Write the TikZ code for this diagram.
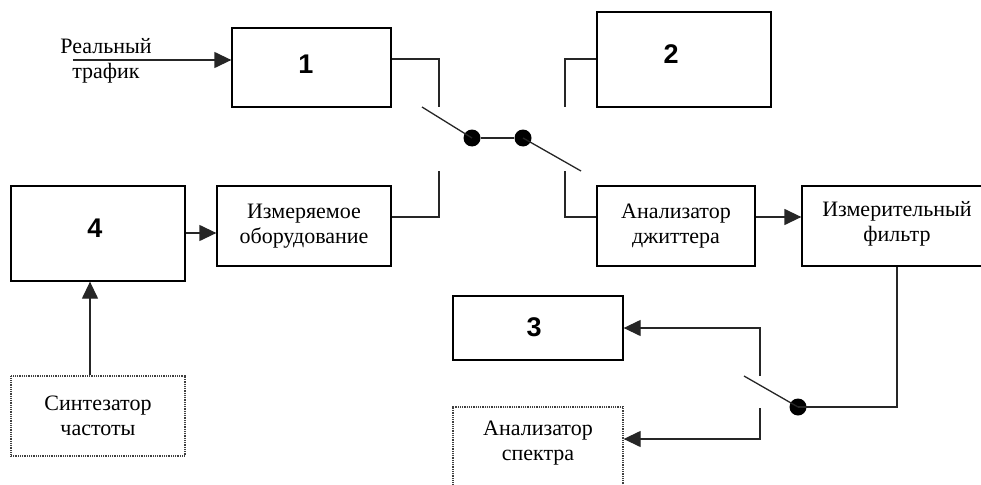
\documentclass[tikz,border=0pt]{standalone}
\usepackage{fontspec}
\setmainfont{Liberation Serif}
\newfontfamily\digitfont{Liberation Sans}
\usetikzlibrary{arrows.meta}
\begin{document}
\begin{tikzpicture}[x=1pt,y=-1pt,
  box/.style={draw=black, line width=1.3pt, inner sep=0pt},
  dotbox/.style={draw=black!75, line width=1.3pt, dash pattern=on 1pt off 0.8pt, inner sep=0pt},
  txt/.style={font=\fontsize{22}{25}\selectfont, align=center, inner sep=0pt},
  digit/.style={font=\digitfont\bfseries\fontsize{27}{27}\selectfont, inner sep=0pt},
  wire/.style={line width=1.3pt, draw=black!85},
  arr/.style={wire, -{Triangle[length=17pt,width=16pt]}},
  junction/.style={circle, fill=black, inner sep=0pt, minimum size=17pt}
]
\useasboundingbox (0,0) rectangle (981,484);
\clip (0,0) rectangle (981,484);

% boxes
\node[box, minimum width=159pt, minimum height=79pt] (b1) at (311.5,67.5) {};
\node[box, minimum width=174pt, minimum height=95pt] (b2) at (684,59.5) {};
\node[box, minimum width=174pt, minimum height=80pt, txt] (izm) at (304,226) {Измеряемое\\оборудование};
\node[box, minimum width=174pt, minimum height=95pt] (b4) at (98,233.5) {};
\node[box, minimum width=158pt, minimum height=80pt, txt] (ad) at (676,226) {Анализатор\\джиттера};
\node[box, minimum width=190pt, minimum height=80pt] (if) at (897,226) {};
\node[txt] (iftxt) at (897,224) {Измерительный\\фильтр};
\node[box, minimum width=170pt, minimum height=64pt] (b3) at (538,328) {};
\node[dotbox, minimum width=170pt, minimum height=100pt] (as) at (538,457) {};
\node[txt] (astxt) at (538,443) {Анализатор\\спектра};
\node[dotbox, minimum width=174pt, minimum height=80pt, txt] (syn) at (98,416) {Синтезатор\\частоты};

% digits
\node[digit] (n1) at (306,64) {1};
\node[digit] (n2) at (671,54) {2};
\node[digit] (n4) at (95,228) {4};
\node[digit] (n3) at (534,327) {3};

% input text
\node[txt] (rt) at (106,61) {Реальный\\трафик};
\coordinate (src) at (73,60);

% junctions
\node[junction] (d1) at (472,138) {};
\node[junction] (d2) at (523,138) {};
\node[junction] (d3) at (798,407) {};

% contacts
\coordinate (c1) at (439,107);
\coordinate (c2) at (565,107);
\coordinate (c3) at (439,171);
\coordinate (c4) at (565,171);
\coordinate (l1) at (422,107);
\coordinate (l2) at (581,171);
\coordinate (c5) at (760,376);
\coordinate (c6) at (760,408);
\coordinate (l3) at (744,376);

% connectors
\draw[arr] (src) -- (src -| b1.west);
\draw[wire] (b1.east |- 0,59) -| (c1);
\draw[wire] (b2.west |- 0,59) -| (c2);
\draw[wire] (l1) -- (d1.center);
\draw[wire] (d1) -- (d2);
\draw[wire] (d2.center) -- (l2);
\draw[wire] (c3) |- (izm.east |- 0,217);
\draw[wire] (c4) |- (ad.west |- 0,217);
\draw[arr] (b4.east |- 0,233) -- (izm.west |- 0,233);
\draw[arr] (ad.east |- 0,217) -- (if.west |- 0,217);
\draw[wire] (if.south -| 897,0) |- (d3.center);
\draw[wire] (l3) -- (d3.center);
\draw[arr] (c5) |- (b3.east);
\draw[arr] (c6) |- (as.east |- 0,439);
\draw[arr] (syn.north -| 90,0) -- (b4.south -| 90,0);
\end{tikzpicture}
\end{document}
